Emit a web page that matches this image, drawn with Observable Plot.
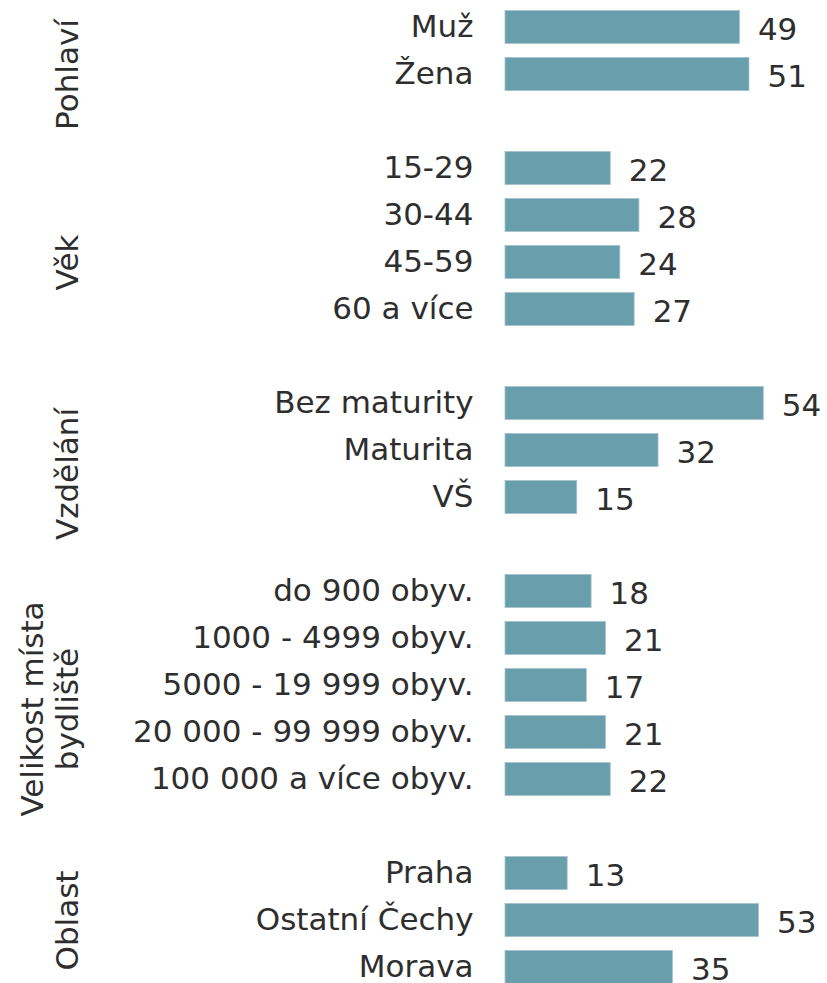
<!DOCTYPE html>
<html>
<head>
<meta charset="utf-8">
<script src="https://cdn.jsdelivr.net/npm/d3@7"></script>
<script src="https://cdn.jsdelivr.net/npm/@observablehq/plot@0.6"></script>
<style>
  html, body { margin: 0; padding: 0; background: #fff; }
  #chart svg { display: block; }
</style>
</head>
<body>
<div id="chart"></div>
<script>
// Groups (left rotated labels) and their categories / values
const groupNames = ["Pohlaví", "Věk", "Vzdělání", "Velikost místa\nbydliště", "Oblast"];
const groupCategories = [
  ["Muž", "Žena"],
  ["15-29", "30-44", "45-59", "60 a více"],
  ["Bez maturity", "Maturita", "VŠ"],
  ["do 900 obyv.", "1000 - 4999 obyv.", "5000 - 19 999 obyv.", "20 000 - 99 999 obyv.", "100 000 a více obyv."],
  ["Praha", "Ostatní Čechy", "Morava"]
];
const groupValues = [
  [49, 51],
  [22, 28, 24, 27],
  [54, 32, 15],
  [18, 21, 17, 21, 22],
  [13, 53, 35]
];

// Build row table: one empty spacer row between groups
const rows = [];
const groups = [];
let idx = 0;
groupNames.forEach((g, gi) => {
  const start = idx;
  groupCategories[gi].forEach((c, ci) => {
    rows.push({group: g, category: c, value: groupValues[gi][ci], i: idx});
    idx++;
  });
  let end = idx - 1;
  if (gi < groupNames.length - 1) { end = idx; idx++; } // spacer row
  groups.push({name: g, center: (start + end) / 2});
});

const FONT = "DejaVu Sans, Verdana, sans-serif";
const half = 0.351;

const plot = Plot.plot({
  width: 827,
  height: 983,
  marginLeft: 505,
  marginRight: 35,
  marginTop: 27,
  marginBottom: 16,
  style: {fontFamily: FONT, background: "#fff"},
  x: {domain: [0, 60], axis: null},
  y: {domain: [0, idx - 1], reverse: true, axis: null},
  marks: [
    Plot.rectX(rows, {
      x1: 0, x2: "value",
      y1: d => d.i - half, y2: d => d.i + half,
      fill: "#699fad", stroke: "#a3c4cd", strokeWidth: 0.8
    }),
    Plot.text(rows, {
      x: 0, y: "i", text: "category",
      textAnchor: "end", dx: -32,
      fontSize: 31, fill: "#2e2e2e"
    }),
    Plot.text(rows, {
      x: "value", y: "i", text: d => String(d.value),
      textAnchor: "start", dx: 18, dy: 3,
      fontSize: 31, fill: "#2e2e2e"
    }),
    Plot.text(groups, {
      x: 0, y: "center", text: "name",
      rotate: -90, textAnchor: "middle", lineAnchor: "bottom",
      lineHeight: 1.1, dx: -428,
      fontSize: 31, fill: "#2e2e2e"
    })
  ]
});
document.getElementById("chart").appendChild(plot);
</script>
</body>
</html>
